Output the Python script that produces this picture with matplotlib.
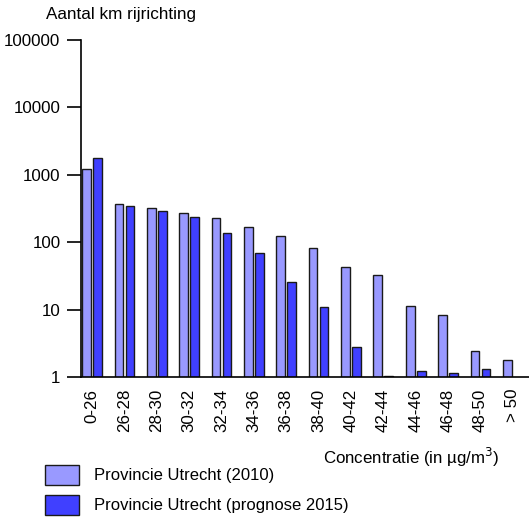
import numpy as np
import matplotlib
matplotlib.use("Agg")
import matplotlib.pyplot as plt

plt.rcParams['font.family'] = ['Liberation Sans', 'DejaVu Sans']

categories = ["0-26", "26-28", "28-30", "30-32", "32-34", "34-36", "36-38",
              "38-40", "40-42", "42-44", "44-46", "46-48", "48-50", "> 50"]
utrecht_2010 = [1200, 370, 325, 275, 225, 168, 125, 82, 43, 33, 11.4, 8.2, 2.45, 1.8]
utrecht_2015 = [1800, 345, 295, 240, 139, 69, 26, 10.8, 2.75, 1.02, 1.22, 1.13, 1.33, np.nan]
yticks = [1, 10, 100, 1000, 10000, 100000]

fig = plt.figure(figsize=(5.29, 5.19), dpi=100)
ax = fig.add_axes([81/529, 1-377/519, 1-81/529, (377-40)/519])

x = np.arange(len(categories))
w = 0.27
off = 0.17
ax.bar(x - off, utrecht_2010, width=w, color='#9999FF', edgecolor='#1a1a1a',
       linewidth=1, label='Provincie Utrecht (2010)')
ax.bar(x + off, utrecht_2015, width=w, color='#4040FF', edgecolor='#1a1a1a',
       linewidth=1, label='Provincie Utrecht (prognose 2015)')

ax.set_yscale('log')
ax.set_ylim(1, 100000)
ax.set_yticks(yticks)
ax.set_yticklabels([str(v) for v in yticks])
ax.yaxis.set_minor_locator(matplotlib.ticker.NullLocator())
ax.set_xlim(-0.34, len(categories) - 0.5)
ax.set_xticks(x)
ax.set_xticklabels(categories, rotation=90)
ax.tick_params(axis='x', length=0, pad=8.5, labelsize=12.2)
ax.tick_params(axis='y', length=10, width=1.2, pad=4.8, labelsize=12.2)
for s in ['top', 'right']:
    ax.spines[s].set_visible(False)
for s in ['left', 'bottom']:
    ax.spines[s].set_linewidth(1.2)

fig.text(46/529, 1-15/519, 'Aantal km rijrichting', fontsize=12.3, va='center', ha='left')
fig.text(500/529, 1-457/519, 'Concentratie (in µg/m$^3$)', fontsize=12.2, va='center', ha='right')

h, l = ax.get_legend_handles_labels()
fig.legend(h, l, loc='upper left', bbox_to_anchor=(45/529, 1-465/519), frameon=False,
           fontsize=12.0, handlelength=2.05, handleheight=1.45, handletextpad=0.9,
           labelspacing=0.6, borderpad=0, borderaxespad=0)

fig.savefig('out.png', dpi=100)
